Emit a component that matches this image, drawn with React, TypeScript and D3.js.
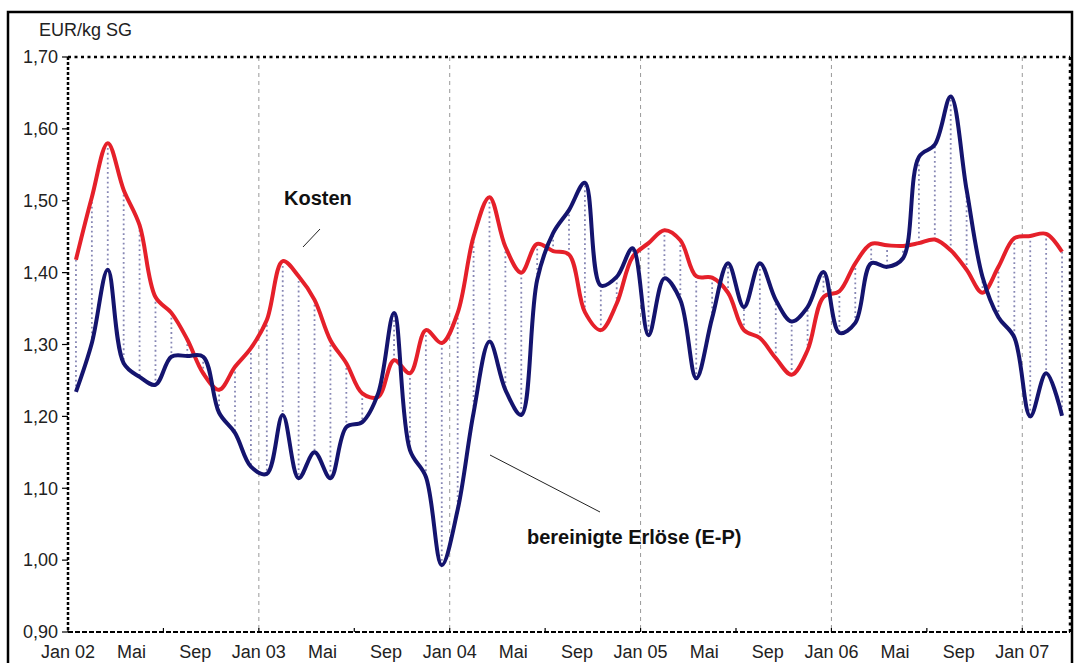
import * as d3 from 'd3';

// monthly values Jan 02 .. Mar 07 (63 months)
const kosten = [
  1.418, 1.505, 1.58, 1.515, 1.466, 1.366, 1.344, 1.307, 1.26, 1.237, 1.269, 1.295,
  1.334, 1.416, 1.395, 1.362, 1.306, 1.274, 1.232, 1.227, 1.278, 1.26, 1.32, 1.302,
  1.344, 1.45, 1.505, 1.436, 1.4, 1.44, 1.43, 1.425, 1.345, 1.32, 1.357, 1.422,
  1.441, 1.459, 1.445, 1.395, 1.393, 1.372, 1.32, 1.309, 1.281, 1.258, 1.292, 1.366,
  1.374, 1.413, 1.44, 1.438, 1.437, 1.441, 1.446, 1.431, 1.404, 1.372, 1.408, 1.448,
  1.451, 1.454, 1.429,
];
const erloese = [
  1.234, 1.302, 1.404, 1.274, 1.255, 1.244, 1.283, 1.284, 1.283, 1.205, 1.177, 1.13,
  1.12, 1.202, 1.114, 1.15, 1.114, 1.185, 1.192, 1.232, 1.344, 1.153, 1.116, 0.993,
  1.07, 1.205, 1.304, 1.237, 1.202, 1.39, 1.455, 1.487, 1.525, 1.382, 1.394, 1.434,
  1.313, 1.392, 1.362, 1.253, 1.337, 1.413, 1.352, 1.413, 1.362, 1.332, 1.352, 1.401,
  1.316, 1.33, 1.413, 1.408, 1.42, 1.561, 1.578, 1.645, 1.515, 1.394, 1.338, 1.31,
  1.2, 1.26, 1.201,
];
const tickLabels = [
  'Jan 02', 'Mai', 'Sep', 'Jan 03', 'Mai', 'Sep', 'Jan 04', 'Mai', 'Sep',
  'Jan 05', 'Mai', 'Sep', 'Jan 06', 'Mai', 'Sep', 'Jan 07',
];
const yTicks = [0.9, 1.0, 1.1, 1.2, 1.3, 1.4, 1.5, 1.6, 1.7];

const W = 1075, H = 663;
const left = 68, right = 1070, top = 57, bottom = 632;
const font = '"Liberation Sans", Arial, sans-serif';

const App = () => {
  const x = d3.scaleLinear().domain([0, kosten.length]).range([left, right]);
  const y = d3.scaleLinear().domain([0.9, 1.7]).range([bottom, top]);
  const idx = d3.range(kosten.length);

  const line = (vals: number[]) =>
    d3
      .line<number>()
      .curve(d3.curveCatmullRom.alpha(0.5))
      .x((i) => x(i + 0.5))
      .y((i) => y(vals[i]))(idx) || '';

  const fmt = (v: number) => v.toFixed(2).replace('.', ',');

  return (
    <svg width={W} height={H} style={{ position: 'absolute', left: 0, top: 0, background: '#fff' }}>
      <rect x={8} y={12} width={1064} height={700} fill="#fff" stroke="#000" strokeWidth={2.5} />

      {/* yearly gridlines */}
      {d3.range(12, 61, 12).map((m) => (
        <line key={'g' + m} x1={x(m)} x2={x(m)} y1={top} y2={bottom}
          stroke="#999" strokeWidth={1} strokeDasharray="4 4" />
      ))}

      {/* drop lines between the two series */}
      {idx.map((i) => (
        <line key={'d' + i} x1={x(i + 0.5)} x2={x(i + 0.5)} y1={y(kosten[i])} y2={y(erloese[i])}
          stroke="#8686b4" strokeWidth={1.8} strokeDasharray="1.8 3" />
      ))}

      {/* frame */}
      <line x1={left} x2={right} y1={top} y2={top} stroke="#000" strokeWidth={2.5} strokeDasharray="3 3.5" />
      <line x1={right} x2={right} y1={top} y2={bottom} stroke="#000" strokeWidth={2.5} strokeDasharray="3 3.5" />
      <line x1={left} x2={left} y1={top} y2={bottom} stroke="#000" strokeWidth={2.5} strokeDasharray="3 2" />
      <line x1={left} x2={right} y1={bottom} y2={bottom} stroke="#000" strokeWidth={2} strokeDasharray="5 2" />

      {/* y axis */}
      {yTicks.map((v) => (
        <g key={'y' + v}>
          <line x1={left - 6} x2={left} y1={y(v)} y2={y(v)} stroke="#000" strokeWidth={1.2} />
          <text x={left - 10} y={y(v)} dy="0.35em" textAnchor="end" fontFamily={font} fontSize={18} fill="#222">
            {fmt(v)}
          </text>
        </g>
      ))}
      <text x={39} y={36} fontFamily={font} fontSize={18} fill="#222">EUR/kg SG</text>

      {/* x axis */}
      {d3.range(0, 61, 6).map((m) => (
        <line key={'t' + m} x1={x(m)} x2={x(m)} y1={bottom - 4} y2={bottom} stroke="#000" strokeWidth={1.2} />
      ))}
      {tickLabels.map((t, k) => (
        <text key={'x' + k} x={x(k * 4)} y={658} textAnchor="middle" fontFamily={font} fontSize={18} fill="#222">
          {t}
        </text>
      ))}

      {/* series */}
      <path d={line(kosten)} fill="none" stroke="#e5202a" strokeWidth={4} strokeLinejoin="round" />
      <path d={line(erloese)} fill="none" stroke="#14146e" strokeWidth={4} strokeLinejoin="round" />

      {/* annotations */}
      <text x={284} y={205} fontFamily={font} fontWeight="bold" fontSize={20} fill="#111">Kosten</text>
      <line x1={303} y1={247} x2={320} y2={229} stroke="#222" strokeWidth={1} />
      <text x={527} y={544} fontFamily={font} fontWeight="bold" fontSize={20} fill="#111">bereinigte Erlöse (E-P)</text>
      <line x1={490} y1={455} x2={600} y2={512} stroke="#222" strokeWidth={1} />
    </svg>
  );
};

export default App;
